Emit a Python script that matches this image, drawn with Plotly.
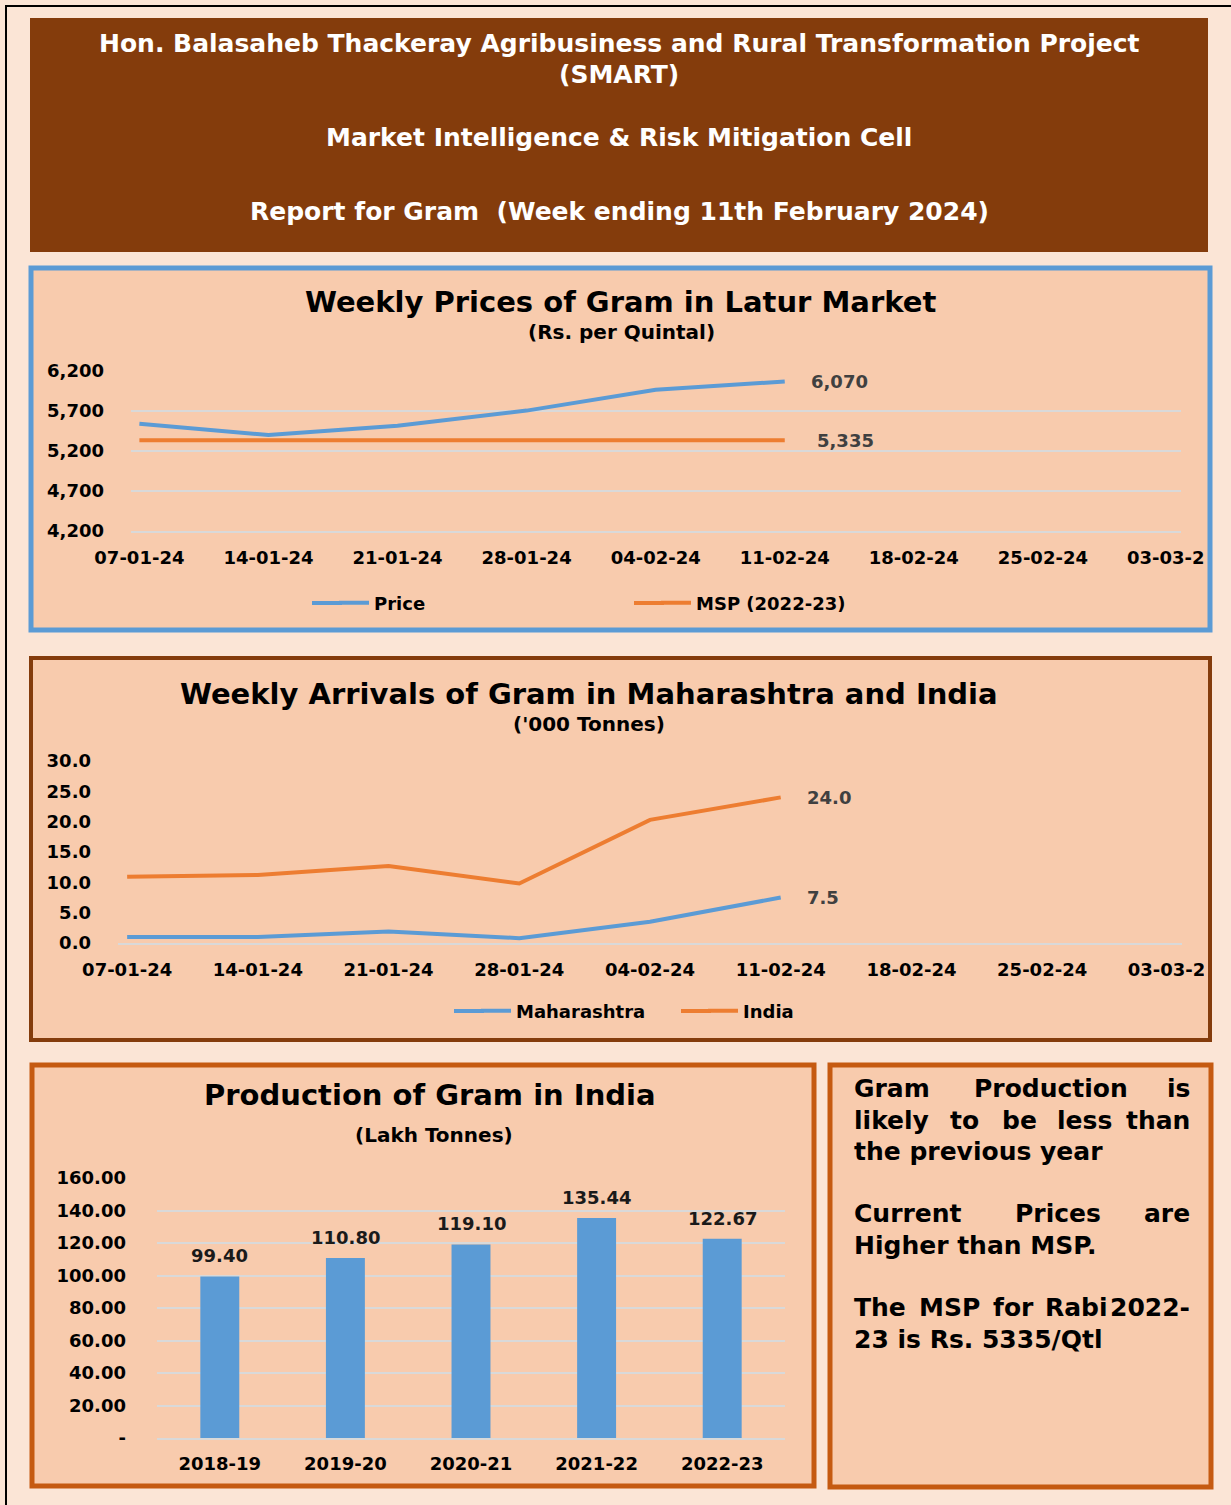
import plotly.graph_objects as go

# ---------------- data ----------------
weeks = ["07-01-24", "14-01-24", "21-01-24", "28-01-24", "04-02-24",
         "11-02-24", "18-02-24", "25-02-24", "03-03-24"]
price_latur = [5540, 5400, 5515, 5705, 5965, 6070]
msp_2022_23 = [5335, 5335, 5335, 5335, 5335, 5335]
price_ticks = [4200, 4700, 5200, 5700, 6200]

arrivals_maharashtra = [1.0, 1.0, 1.9, 0.8, 3.5, 7.5]
arrivals_india = [10.9, 11.2, 12.7, 9.8, 20.3, 24.0]
arrival_ticks = [0, 5, 10, 15, 20, 25, 30]

years = ["2018-19", "2019-20", "2020-21", "2021-22", "2022-23"]
production = [99.40, 110.80, 119.10, 135.44, 122.67]
production_ticks = [0, 20, 40, 60, 80, 100, 120, 140, 160]

# ---------------- styling ----------------
W, H = 1231, 1505
F = "DejaVu Sans"
PAGE = "#FBE5D6"
PANEL = "#F8CBAD"
BROWN = "#843C0C"
RUST = "#C55A11"
BLUE = "#5B9BD5"
ORANGE = "#ED7D31"
GRID = "#D9D9D9"


def px(x):
    return x / W


def py(y):
    return 1 - y / H


fig = go.Figure()

# ---- chart 1: prices ----
fig.add_trace(go.Scatter(x=weeks[:len(price_latur)], y=price_latur, name="Price",
                         mode="lines", line=dict(color=BLUE, width=4),
                         xaxis="x", yaxis="y", legend="legend"))
fig.add_trace(go.Scatter(x=weeks[:len(msp_2022_23)], y=msp_2022_23, name="MSP (2022-23)",
                         mode="lines", line=dict(color=ORANGE, width=4),
                         xaxis="x", yaxis="y", legend="legend"))

# ---- chart 2: arrivals ----
fig.add_trace(go.Scatter(x=weeks[:len(arrivals_maharashtra)], y=arrivals_maharashtra,
                         name="Maharashtra", mode="lines", line=dict(color=BLUE, width=4),
                         xaxis="x2", yaxis="y2", legend="legend2"))
fig.add_trace(go.Scatter(x=weeks[:len(arrivals_india)], y=arrivals_india,
                         name="India", mode="lines", line=dict(color=ORANGE, width=4),
                         xaxis="x2", yaxis="y2", legend="legend2"))

# ---- chart 3: production ----
fig.add_trace(go.Bar(x=years, y=production, marker=dict(color=BLUE, line=dict(width=0)),
                     showlegend=False, xaxis="x3", yaxis="y3"))

tickf = dict(family=F, size=18, color="black", weight="bold")

layout = dict(
    width=W, height=H, margin=dict(l=0, r=0, t=0, b=0, autoexpand=False),
    paper_bgcolor=PAGE, plot_bgcolor="rgba(0,0,0,0)",
    font=dict(family=F, color="black"),
    bargap=0.69,
    xaxis=dict(domain=[px(131), px(1181)], anchor="y", type="category",
               categoryorder="array", categoryarray=weeks, range=[-0.065, 8.07],
               showgrid=False, showline=True, linecolor=GRID, linewidth=1.5,
               ticks="", tickfont=tickf, ticklabelstandoff=10, fixedrange=True),
    yaxis=dict(domain=[py(531), py(371)], anchor="x", range=[4200, 6200],
               tickvals=price_ticks, tickformat=",d", showgrid=True, gridcolor=GRID,
               gridwidth=1.5, zeroline=False, ticks="", tickfont=tickf,
               ticklabelstandoff=26, fixedrange=True),
    xaxis2=dict(domain=[px(118), px(1182)], anchor="y2", type="category",
                categoryorder="array", categoryarray=weeks, range=[-0.07, 8.07],
                showgrid=False, showline=True, linecolor=GRID, linewidth=1.5,
                ticks="", tickfont=tickf, ticklabelstandoff=10, fixedrange=True),
    yaxis2=dict(domain=[py(943), py(761)], anchor="x2", range=[0, 30],
                tickvals=arrival_ticks, tickformat=".1f", showgrid=False,
                zeroline=False, ticks="", tickfont=tickf, ticklabelstandoff=26,
                fixedrange=True),
    xaxis3=dict(domain=[px(157), px(785)], anchor="y3", type="category",
                showgrid=False, showline=True, linecolor=GRID, linewidth=1.5,
                ticks="", tickfont=tickf, ticklabelstandoff=9, fixedrange=True),
    yaxis3=dict(domain=[py(1438), py(1178)], anchor="x3", range=[0, 160],
                tickvals=production_ticks,
                ticktext=["-" if v == 0 else f"{v:.2f}" for v in production_ticks],
                showgrid=True, gridcolor=GRID, gridwidth=1.5, zeroline=False,
                ticks="", tickfont=tickf, ticklabelstandoff=30, fixedrange=True),
    legend=dict(orientation="h", x=px(334), y=py(603), xanchor="left", yanchor="middle",
                bgcolor="rgba(0,0,0,0)", font=tickf, entrywidth=277, itemwidth=30),
    legend2=dict(orientation="h", x=px(476), y=py(1011), xanchor="left", yanchor="middle",
                 bgcolor="rgba(0,0,0,0)", font=tickf, entrywidth=182, itemwidth=30),
)
fig.update_layout(**layout)

# ---------------- panels (shapes) ----------------
shapes = []


def rect(x0, y0, x1, y1, fill, layer="below", lc=None, lw=0):
    shapes.append(dict(type="rect", xref="paper", yref="paper", layer=layer,
                       x0=px(x0), x1=px(x1), y0=py(y1), y1=py(y0), fillcolor=fill,
                       line=dict(color=lc or "rgba(0,0,0,0)", width=lw)))


def panel(x0, y0, x1, y1, color, lw):
    rect(x0, y0, x1, y1, PANEL)
    shapes.append(dict(type="rect", xref="paper", yref="paper", layer="above",
                       x0=px(x0), x1=px(x1), y0=py(y1), y1=py(y0),
                       fillcolor="rgba(0,0,0,0)", line=dict(color=color, width=lw)))


# outer black frame
rect(6, 6, 1245, 1520, PAGE, lc="black", lw=2)
# header
rect(30, 18, 1208, 252, BROWN)
# covers that clip the overflowing last tick labels at the panel edges
rect(1204, 520, 1210, 630, PANEL, layer="above")
rect(1204, 930, 1210, 1040, PANEL, layer="above")
rect(1210, 260, W + 5, 1045, PAGE, layer="above")
panel(31, 268, 1210, 630, BLUE, 5)
panel(31, 658, 1210, 1040, BROWN, 4)
panel(32, 1065, 814, 1486, RUST, 5)
panel(830, 1065, 1211, 1487, RUST, 5)


# longer legend keys (extend the legend line samples to the left)
def key_ext(x0, x1, y, color):
    shapes.append(dict(type="line", xref="paper", yref="paper", layer="above",
                       x0=px(x0), x1=px(x1), y0=py(y), y1=py(y),
                       line=dict(color=color, width=4)))


key_ext(312, 342, 603, BLUE)
key_ext(634, 664, 603, ORANGE)
key_ext(454, 484, 1011, BLUE)
key_ext(681, 711, 1011, ORANGE)
fig.update_layout(shapes=shapes)

# ---------------- annotations ----------------
ann = []


def text(t, x, y, size, color="black", xanchor="center", bold=True):
    ann.append(dict(text=t, xref="paper", yref="paper", x=px(x), y=py(y),
                    xanchor=xanchor, yanchor="middle", showarrow=False,
                    font=dict(family=F, size=size, color=color,
                              weight="bold" if bold else "normal")))


# header
text("Hon. Balasaheb Thackeray Agribusiness and Rural Transformation Project", 619, 43, 25, "white")
text("(SMART)", 619, 75, 25, "white")
text("Market Intelligence &amp; Risk Mitigation Cell", 619, 138, 25, "white")
text("Report for Gram  (Week ending 11th February 2024)", 619, 212, 25, "white")

# chart titles
text("Weekly Prices of Gram in Latur Market", 620, 302, 29)
text("(Rs. per Quintal)", 621, 332, 20)
text("Weekly Arrivals of Gram in Maharashtra and India", 589, 694, 29)
text("('000 Tonnes)", 589, 724, 20)
text("Production of Gram in India", 430, 1095, 29)
text("(Lakh Tonnes)", 434, 1135, 20)

# end-of-line data labels
lab = dict(family=F, size=18, color="#404040", weight="bold")
ann.append(dict(text=f"{price_latur[-1]:,}", x=weeks[len(price_latur) - 1], y=price_latur[-1],
                xref="x", yref="y", xanchor="left", yanchor="middle", xshift=24,
                showarrow=False, font=lab))
ann.append(dict(text=f"{msp_2022_23[-1]:,}", x=weeks[len(msp_2022_23) - 1], y=msp_2022_23[-1],
                xref="x", yref="y", xanchor="left", yanchor="middle", xshift=30,
                showarrow=False, font=lab))
ann.append(dict(text=f"{arrivals_india[-1]:.1f}", x=weeks[len(arrivals_india) - 1],
                y=arrivals_india[-1], xref="x2", yref="y2", xanchor="left",
                yanchor="middle", xshift=24, showarrow=False, font=lab))
ann.append(dict(text=f"{arrivals_maharashtra[-1]:.1f}", x=weeks[len(arrivals_maharashtra) - 1],
                y=arrivals_maharashtra[-1], xref="x2", yref="y2", xanchor="left",
                yanchor="middle", xshift=24, showarrow=False, font=lab))

# bar labels
for yr, v in zip(years, production):
    ann.append(dict(text=f"{v:.2f}", x=yr, y=v, xref="x3", yref="y3", xanchor="center",
                    yanchor="bottom", yshift=8, showarrow=False,
                    font=dict(family=F, size=18, color="#1a1a1a", weight="bold")))

# side note (justified text, word by word on justified lines)
note_lines = [
    (1088, [("Gram", 852, "left"), ("Production", 972, "left"), ("is", 1192, "right")]),
    (1120, [("likely", 852, "left"), ("to", 948, "left"), ("be", 1000, "left"),
            ("less", 1055, "left"), ("than", 1192, "right")]),
    (1151, [("the previous year", 852, "left")]),
    (1213, [("Current", 852, "left"), ("Prices", 1013, "left"), ("are", 1192, "right")]),
    (1245, [("Higher than MSP.", 852, "left")]),
    (1307, [("The", 852, "left"), ("MSP", 917, "left"), ("for", 991, "left"),
            ("Rabi", 1043, "left"), ("2022-", 1192, "right")]),
    (1339, [("23 is Rs. 5335/Qtl", 852, "left")]),
]
for y, words in note_lines:
    for w_, x, anc in words:
        text(w_, x, y, 25, "black", xanchor=anc)

fig.update_layout(annotations=ann)

fig.write_html("out.html", config={"displayModeBar": False},
               post_script="document.body.style.margin='0';document.body.style.overflow='hidden';")
